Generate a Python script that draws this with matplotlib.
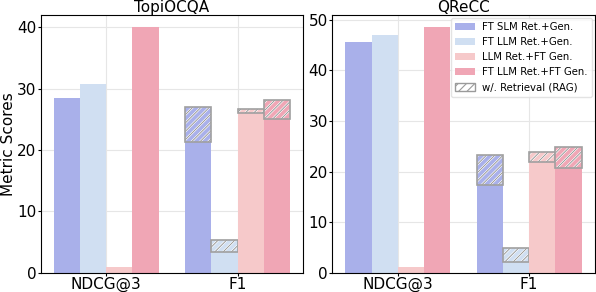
import numpy as np
from matplotlib import pyplot as plt

datasets = ["TopiOCQA", "QReCC"]
metrics = ["NDCG@3", "F1"]
methods = ["FT SLM Ret.+Gen.", "FT LLM Ret.+Gen.", "LLM Ret.+FT Gen.", "FT LLM Ret.+FT Gen."]
colors = ["#a9b0ea", "#d0dff2", "#f6c9ca", "#f0a6b5"]

# base scores [method][metric]
topi_base = [[28.5, 21.4], [30.7, 3.4], [1.0, 26.05], [40.0, 25.1]]
topi_rag = [[None, 27.0], [None, 5.4], [None, 26.7], [None, 28.2]]
qrecc_base = [[45.6, 17.4], [47.0, 2.1], [1.2, 21.8], [48.5, 20.7]]
qrecc_rag = [[None, 23.3], [None, 4.9], [None, 23.8], [None, 24.8]]

fig, axes = plt.subplots(1, 2, figsize=(5.96, 2.92), dpi=100)
fig.subplots_adjust(left=0.068, right=0.998, bottom=0.066, top=0.948, wspace=0.11)

x = np.arange(len(metrics))
w = 0.2
offsets = [-0.3, -0.1, 0.1, 0.3]

for ax, name, base, rag in zip(axes, datasets, [topi_base, qrecc_base], [topi_rag, qrecc_rag]):
    ax.set_axisbelow(True)
    ax.grid(True, color="#e6e6e6", linewidth=0.8)
    for i in range(len(methods)):
        ax.bar(x + offsets[i], base[i], w, color=colors[i], label=methods[i])
        for j in range(len(metrics)):
            if rag[i][j] is not None:
                h = rag[i][j] - base[i][j]
                xb = x[j] + offsets[i]
                plt.rcParams['hatch.linewidth'] = 1.6
                ax.bar(xb, h, w, bottom=base[i][j], color=colors[i],
                       hatch="////", edgecolor="white", linewidth=0)
                plt.rcParams['hatch.linewidth'] = 0.6
                ax.bar(xb, h, w, bottom=base[i][j], fill=False,
                       hatch="////", edgecolor="#8c8c8c", linewidth=0)
                ax.bar(xb, h, w, bottom=base[i][j], fill=False,
                       edgecolor="#a0a0a0", linewidth=1.2)
    top = max(max(b) for b in base)
    ax.set_ylim(0, top * 1.05)
    ax.set_xlim(-0.5, 1.5)
    ax.set_xticks(x)
    ax.set_xticklabels(metrics, fontsize=11)
    ax.tick_params(axis="both", labelsize=11, length=2, pad=1)
    ax.set_title(name, fontsize=11, pad=2)

axes[0].set_ylabel("Metric Scores", fontsize=11)
axes[0].yaxis.set_label_coords(-0.095, 0.5)

plt.rcParams['hatch.linewidth'] = 0.8
handles, labels = axes[1].get_legend_handles_labels()
rag_patch = plt.Rectangle((0, 0), 1, 1, facecolor="white", edgecolor="#9a9a9a", hatch="////")
handles.append(rag_patch)
labels.append("w/. Retrieval (RAG)")
axes[1].legend(handles, labels, loc="upper right", fontsize=7.3, frameon=True,
               edgecolor="#dddddd", handlelength=2.0, handletextpad=0.7, borderaxespad=0.3)

plt.savefig("out.png", dpi=100)
